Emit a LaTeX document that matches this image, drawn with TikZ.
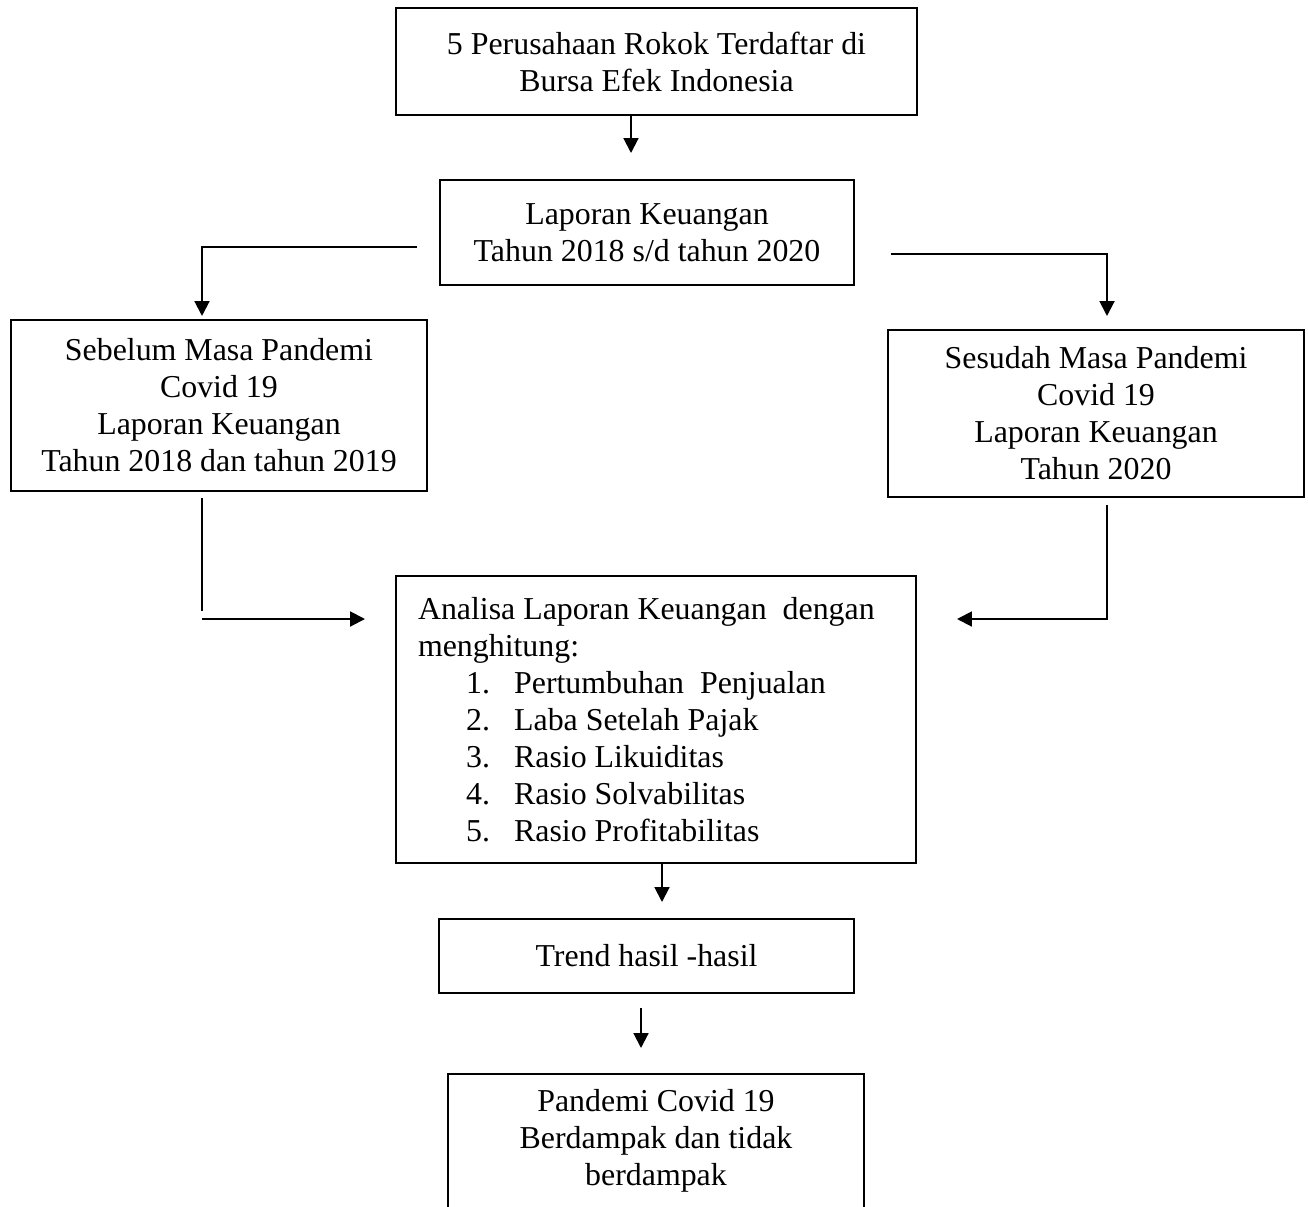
\documentclass[tikz,border=0pt]{standalone}
\usepackage{fontspec}
\setmainfont{Liberation Serif}
\usetikzlibrary{arrows.meta}
\newcommand{\px}{0.389pt}
\newcommand{\itemline}[2]{\hspace*{18.7pt}\makebox[18.7pt][l]{#1}#2}

\begin{document}
\begin{tikzpicture}[x=\px, y=-\px, line width=0.8pt,
    box/.style={draw, align=center, inner sep=0pt, font=\fontsize{12.4}{14.4}\selectfont},
    arr/.style={-{Triangle[width=5.8pt,length=5.8pt]}}]
\useasboundingbox (0,0) rectangle (1308,1206);

\node[box, minimum width=521*\px, minimum height=107*\px] (perusahaan) at (656.5,61.5) {5 Perusahaan Rokok Terdaftar di\\Bursa Efek Indonesia};
\node[box, minimum width=414*\px, minimum height=105*\px] (laporan) at (647,232.5) {Laporan Keuangan\\Tahun 2018 s/d tahun 2020};
\node[box, minimum width=416*\px, minimum height=171*\px] (sebelum) at (219,405.5) {Sebelum Masa Pandemi\\Covid 19\\Laporan Keuangan\\Tahun 2018 dan tahun 2019};
\node[box, minimum width=416*\px, minimum height=167*\px] (sesudah) at (1096,413.5) {Sesudah Masa Pandemi\\Covid 19\\Laporan Keuangan\\Tahun 2020};
\node[box, align=flush left, text width=476*\px, minimum width=520*\px, minimum height=287*\px] (analisa) at (656,719.5) {Analisa Laporan Keuangan\ \ dengan\\menghitung:\\
    \itemline{1.}{Pertumbuhan\ \ Penjualan}\\
    \itemline{2.}{Laba Setelah Pajak}\\
    \itemline{3.}{Rasio Likuiditas}\\
    \itemline{4.}{Rasio Solvabilitas}\\
    \itemline{5.}{Rasio Profitabilitas}};
\node[box, minimum width=415*\px, minimum height=74*\px] (trend) at (646.5,956) {Trend hasil -hasil};
\node[box, draw=none, minimum width=414*\px, minimum height=131*\px] (pandemi) at (656,1140.5) {Pandemi Covid 19\\Berdampak dan tidak\\berdampak};
\draw (pandemi.south west) |- (pandemi.north east) -- (pandemi.south east);

% connectors
\coordinate (a1) at (631,153);
\draw[arr] (a1 |- perusahaan.south) -- (a1);
\coordinate (lstart) at (417,247);
\coordinate (lend) at (202,316);
\draw[arr] (lstart) -| (lend);
\coordinate (rstart) at (891,254);
\coordinate (rend) at (1107,316);
\draw[arr] (rstart) -| (rend);

\coordinate (ltop) at (202,498);
\coordinate (lbot) at (202,611);
\draw (ltop) -- (lbot);
\coordinate (lin) at (202,619);
\coordinate (lintip) at (365,619);
\draw[arr] (lin) -- (lintip);
\coordinate (rtop) at (1107,505);
\coordinate (rintip) at (957,619);
\draw[arr] (rtop) |- (rintip);

\coordinate (a5) at (662,902);
\draw[arr] (a5 |- analisa.south) -- (a5);
\coordinate (a6s) at (641,1008);
\coordinate (a6) at (641,1048);
\draw[arr] (a6s) -- (a6);
\end{tikzpicture}
\end{document}
